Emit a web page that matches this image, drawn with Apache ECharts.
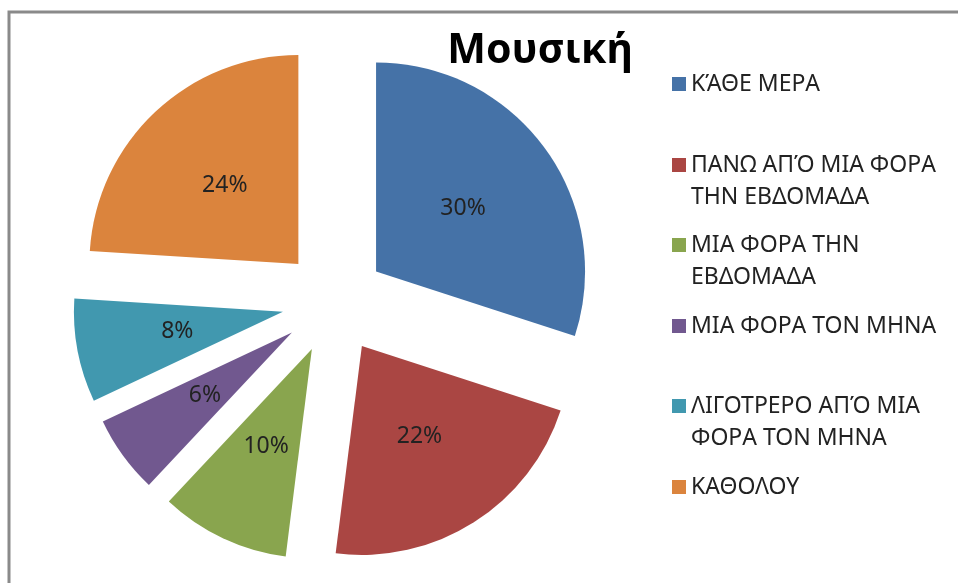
<!DOCTYPE html>
<html>
<head>
<meta charset="utf-8">
<title>Μουσική</title>
<script src="https://cdn.jsdelivr.net/npm/echarts@6/dist/echarts.min.js"></script>
<style>
  html, body { margin: 0; padding: 0; background: #fff; }
  #chart { width: 958px; height: 583px; }
</style>
</head>
<body>
<div id="chart"></div>
<script>
// categories and values (percent)
const categories = [
  'ΚΆΘΕ ΜΕΡΑ',
  'ΠΑΝΩ ΑΠΌ ΜΙΑ ΦΟΡΑ ΤΗΝ ΕΒΔΟΜΑΔΑ',
  'ΜΙΑ ΦΟΡΑ ΤΗΝ ΕΒΔΟΜΑΔΑ',
  'ΜΙΑ ΦΟΡΑ ΤΟΝ ΜΗΝΑ',
  'ΛΙΓΟΤΡΕΡΟ ΑΠΌ ΜΙΑ ΦΟΡΑ ΤΟΝ ΜΗΝΑ',
  'ΚΑΘΟΛΟΥ'
];
const values = [30, 22, 10, 6, 8, 24];
// legend text as wrapped in the picture
const legendLines = [
  ['ΚΆΘΕ ΜΕΡΑ'],
  ['ΠΑΝΩ ΑΠΌ ΜΙΑ ΦΟΡΑ', 'ΤΗΝ ΕΒΔΟΜΑΔΑ'],
  ['ΜΙΑ ΦΟΡΑ ΤΗΝ', 'ΕΒΔΟΜΑΔΑ'],
  ['ΜΙΑ ΦΟΡΑ ΤΟΝ ΜΗΝΑ'],
  ['ΛΙΓΟΤΡΕΡΟ ΑΠΌ ΜΙΑ', 'ΦΟΡΑ ΤΟΝ ΜΗΝΑ'],
  ['ΚΑΘΟΛΟΥ']
];
const colors = ['#4572A7', '#AA4643', '#89A54E', '#71588F', '#4198AF', '#DB843D'];

const chart = echarts.init(document.getElementById('chart'));

const fontFamily = '"Noto Sans", "Open Sans", sans-serif';
const lineH = 32;
const box = 14;
const firstTop = 84;
const slot = 80.6;

// square marker; for two-line entries the icon box is made taller so the
// square lines up with the first text line (a tiny point pins the bottom)
const tallIcon = 'path://M0,0L14,0L14,14L0,14Z M0,45.9L0.01,45.9L0.01,46L0,46Z';

// one legend per entry so every entry sits in its own slot
const legends = categories.map((name, i) => {
  const lines = legendLines[i].length;
  return {
    data: [name],
    left: 672,
    top: Math.round(firstTop + i * slot - lineH / 2),
    orient: 'vertical',
    padding: 0,
    icon: lines === 1 ? 'rect' : tallIcon,
    itemWidth: box,
    itemHeight: lines === 1 ? box : box + lineH,
    itemGap: 7,
    selectedMode: false,
    formatter: () => legendLines[i].join('\n'),
    textStyle: {
      fontFamily,
      fontSize: 23,
      color: '#222',
      lineHeight: lineH
    }
  };
});

const option = {
  animation: false,
  color: colors,
  title: {
    text: 'Μουσική',
    left: 535,
    top: 26,
    textAlign: 'center',
    textStyle: {
      fontFamily,
      fontSize: 41,
      fontWeight: 'bold',
      color: '#000'
    }
  },
  legend: legends,
  graphic: [
    {
      type: 'rect',
      shape: { x: 9, y: 12, width: 1000, height: 600 },
      style: { fill: 'none', stroke: '#8a8a8a', lineWidth: 3 },
      silent: true
    }
  ],
  series: [
    {
      type: 'pie',
      center: [334, 302],
      radius: 209,
      startAngle: 90,
      clockwise: true,
      selectedMode: 'multiple',
      selectedOffset: 52,
      avoidLabelOverlap: false,
      emphasis: { scale: false, disabled: true },
      label: {
        show: true,
        position: 'inside',
        formatter: '{c}%',
        fontFamily,
        fontSize: 23,
        color: '#222'
      },
      labelLine: { show: false },
      data: categories.map((name, i) => ({
        name,
        value: values[i],
        selected: true
      }))
    }
  ]
};

chart.setOption(option);
</script>
</body>
</html>
